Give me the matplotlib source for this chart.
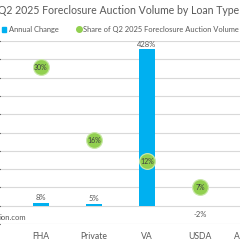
import matplotlib
matplotlib.use("Agg")
import matplotlib.pyplot as plt
from matplotlib.patches import Patch
from matplotlib.lines import Line2D

# data (the chart is cropped on both sides)
categories = ["FHA", "Private", "VA", "USDA", "All Others"]
annual_change = [8, 5, 428, -2]
share = [30, 16, 12, 7]
bar_labels = ["8%", "5%", "428%", "-2%"]
share_labels = ["30%", "16%", "12%", "7%"]

BLUE = "#00B0F0"
GREEN = "#92D050"
TEXT = "#595959"
GRID = "#D9D9D9"

plt.rcParams["font.family"] = ["Lato", "DejaVu Sans"]

fig = plt.figure(figsize=(2.4, 2.4), dpi=100)
fig.patch.set_facecolor("white")

# plot area runs off the left and right edge of the crop
px = 53.0  # pixels per category
x_left = -41 / px
ax_w = 1.25
ax = fig.add_axes([0, 1 - 224 / 240, ax_w, (224 - 41) / 240])
ax.set_xlim(x_left, x_left + ax_w * 240 / px)
ax.set_ylim(-50, 450)
ax.set_yticks(range(-50, 451, 50))
ax.yaxis.grid(True, color=GRID, linewidth=0.8)
ax.set_axisbelow(True)
for s in ax.spines.values():
    s.set_visible(False)
ax.tick_params(axis="y", left=False, labelleft=False)
ax.tick_params(axis="x", length=0, labelsize=6.2, labelcolor=TEXT, pad=6)

xs = list(range(len(annual_change)))
ax.set_xticks(range(len(categories)))
ax.set_xticklabels(categories)
ax.bar(xs, annual_change, width=0.32, color=BLUE, zorder=2)
for x, v, lab in zip(xs, annual_change, bar_labels):
    if v >= 0:
        ax.annotate(lab, (x, v), xytext=(0, 1), textcoords="offset points",
                    ha="center", va="bottom", fontsize=5.5, color=TEXT)
    else:
        ax.annotate(lab, (x, v), xytext=(0, -3), textcoords="offset points",
                    ha="center", va="top", fontsize=5.5, color=TEXT)

ax2 = ax.twinx()
ax2.set_ylim(0, 35)
ax2.axis("off")
ax2.scatter(xs, share, s=150, color="#C8E7A7", zorder=3, linewidths=0)
ax2.scatter(xs, share, s=110, color=GREEN, zorder=4, linewidths=0)
for x, v, lab in zip(xs, share, share_labels):
    ax2.text(x, v, lab, ha="center", va="center", fontsize=5, color="#404040", zorder=5)

fig.text(-0.008, 0.958, "Q2 2025 Foreclosure Auction Volume by Loan Type",
         ha="left", va="center", fontsize=7.6, color=TEXT)

handles = [Patch(color=BLUE),
           Line2D([], [], marker="o", linestyle="", color=GREEN, markersize=4)]
fig.legend(handles, ["Annual Change", "Share of Q2 2025 Foreclosure Auction Volume"],
           loc="center left", bbox_to_anchor=(0.008, 0.878), ncol=2, frameon=False,
           fontsize=5.4, labelcolor=TEXT, handlelength=0.6, handleheight=0.6,
           handletextpad=0.3, columnspacing=2.4, borderaxespad=0, borderpad=0)

fig.text(0.0, 1 - 218 / 240, "ion.com", ha="left", va="center", fontsize=5.5, color=TEXT)

fig.savefig("out.png", dpi=100)
